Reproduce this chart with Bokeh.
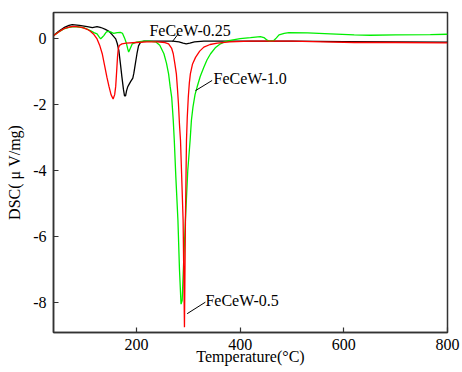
from bokeh.plotting import figure
from bokeh.models import Range1d, FixedTicker, Label
from bokeh.embed import file_html
from bokeh.resources import INLINE

# ---- data ----
t_025 = [40, 50, 60, 70, 76, 90, 105, 115, 124, 130, 134, 140, 147, 153, 160, 163, 166, 169,
         172, 175, 177, 179, 181, 183, 186, 189, 193, 195, 198, 201, 204, 208, 215, 225, 250,
         270, 282, 290, 296, 303, 312, 330, 400, 500, 600, 700, 800]
dsc_025 = [0.09, 0.22, 0.33, 0.40, 0.42, 0.40, 0.36, 0.33, 0.36, 0.34, 0.32, 0.28, 0.22, 0.12,
           -0.01, -0.15, -0.36, -0.75, -1.17, -1.55, -1.74, -1.74, -1.58, -1.47, -1.38, -1.30,
           -1.20, -1.05, -0.75, -0.46, -0.22, -0.11, -0.08, -0.08, -0.08, -0.08, -0.10, -0.14,
           -0.16, -0.14, -0.10, -0.08, -0.08, -0.08, -0.09, -0.10, -0.11]

t_05 = [40, 50, 60, 70, 80, 95, 105, 111, 118, 124, 129, 134, 139, 143, 147, 151, 155, 158,
        160, 162, 163.5, 165, 167, 172, 180, 200, 220, 240, 255, 262, 268, 271, 274, 277, 279,
        281, 283, 285, 290, 292.6, 294.5, 296.5, 298, 300, 302, 304, 308, 314, 322, 330, 342,
        356, 380, 420, 500, 560, 620, 700, 800]
dsc_05 = [0.09, 0.20, 0.30, 0.35, 0.37, 0.34, 0.28, 0.22, 0.12, -0.01, -0.20, -0.46, -0.85,
          -1.17, -1.45, -1.70, -1.83, -1.70, -1.45, -0.95, -0.55, -0.30, -0.21, -0.16, -0.14,
          -0.12, -0.10, -0.10, -0.12, -0.16, -0.30, -0.46, -0.75, -1.07, -1.50, -1.97, -2.60,
          -3.09, -5.50, -8.75, -5.50, -3.09, -2.40, -1.78, -1.35, -1.07, -0.78, -0.57, -0.38,
          -0.26, -0.18, -0.14, -0.10, -0.08, -0.08, -0.10, -0.12, -0.12, -0.13]

t_10 = [40, 50, 60, 70, 79, 90, 100, 111, 118, 124, 128, 131, 134, 137, 141, 144, 150, 156,
        163, 169, 173, 177, 180, 183, 185, 188, 192, 200, 213, 225, 237, 245, 253, 258, 262,
        265, 268, 271, 273, 276, 280, 283, 286, 288.2, 291, 294.5, 299, 303.5, 306, 309, 313,
        317, 323, 330, 336, 343, 352, 362, 370, 378, 400, 420, 439, 446, 452, 456, 465, 470,
        475, 485, 494, 530, 574, 620, 651, 700, 767, 800]
dsc_10 = [0.09, 0.20, 0.29, 0.34, 0.36, 0.35, 0.32, 0.24, 0.18, 0.14, 0.05, -0.01, 0.04, 0.09,
          0.18, 0.22, 0.20, 0.16, 0.18, 0.19, 0.16, 0.02, -0.11, -0.30, -0.41, -0.30, -0.16,
          -0.11, -0.08, -0.08, -0.10, -0.20, -0.46, -0.75, -1.07, -1.45, -1.78, -2.48, -3.09,
          -4.20, -5.50, -7.00, -8.05, -7.94, -6.80, -5.50, -4.00, -3.09, -2.48, -2.08, -1.70,
          -1.47, -1.15, -0.87, -0.65, -0.46, -0.28, -0.16, -0.10, -0.06, 0.00, 0.03, 0.06,
          0.03, -0.05, -0.08, -0.06, 0.02, 0.11, 0.16, 0.18, 0.17, 0.14, 0.11, 0.10, 0.11,
          0.12, 0.13]

x_ticks = [200, 400, 600, 800]
y_ticks = [0, -2, -4, -6, -8]
y_tick_labels = ["0", "-2", "-4", "-6", "-8"]

names = ["FeCeW-0.25", "FeCeW-0.5", "FeCeW-1.0"]
# annotation placement: (text x, text y, leader x0, y0, x1, y1)
ann = [
    (225, 0.24, 281, 0.15, 269.5, -0.09),
    (333, -7.94, 333, -7.99, 297.8, -8.34),
    (348.6, -1.21, 346, -1.27, 313.8, -1.58),
]

FONT = "Liberation Serif"

p = figure(width=462, height=372, output_backend="svg", toolbar_location=None,
           x_range=Range1d(40, 800), y_range=Range1d(-8.91, 0.79),
           min_border_left=53, min_border_right=15, min_border_top=12, min_border_bottom=40)
p.background_fill_color = "white"
p.border_fill_color = "white"
p.outline_line_color = "#333333"
p.outline_line_width = 1.5
p.xgrid.visible = False
p.ygrid.visible = False

p.line(t_025, dsc_025, line_color="black", line_width=1.3)
p.line(t_10, dsc_10, line_color="#00ee00", line_width=1.3)
p.line(t_05, dsc_05, line_color="#ff0000", line_width=1.3)

for name, (tx, ty, x0, y0, x1, y1) in zip(names, ann):
    p.segment(x0=[x0], y0=[y0], x1=[x1], y1=[y1], line_color="black", line_width=1)
    p.add_layout(Label(x=tx, y=ty, text=name, text_font=FONT, text_font_size="16px",
                       text_baseline="alphabetic", text_color="black"))

for ax in (p.xaxis[0], p.yaxis[0]):
    ax.axis_line_color = "#333333"
    ax.axis_line_width = 1.5
    ax.major_tick_line_color = "#333333"
    ax.major_tick_line_width = 1.2
    ax.major_tick_in = 5
    ax.major_tick_out = 0
    ax.minor_tick_line_color = None
    ax.major_label_text_font = FONT
    ax.major_label_text_font_size = "16px"
    ax.major_label_text_color = "black"
    ax.axis_label_text_font = FONT
    ax.axis_label_text_font_size = "16px"
    ax.axis_label_text_font_style = "normal"
    ax.axis_label_text_color = "black"

p.xaxis.ticker = FixedTicker(ticks=x_ticks)
p.yaxis.ticker = FixedTicker(ticks=y_ticks)
p.yaxis.major_label_overrides = {v: s for v, s in zip(y_ticks, y_tick_labels)}
p.xaxis.axis_label = "Temperature(°C)"
p.yaxis.axis_label = "DSC( μ V/mg)"
p.xaxis.major_label_standoff = 6
p.xaxis.axis_label_standoff = -5
p.yaxis.major_label_standoff = 7
p.yaxis.axis_label_standoff = 7

open("out.html", "w").write(file_html(p, INLINE))
